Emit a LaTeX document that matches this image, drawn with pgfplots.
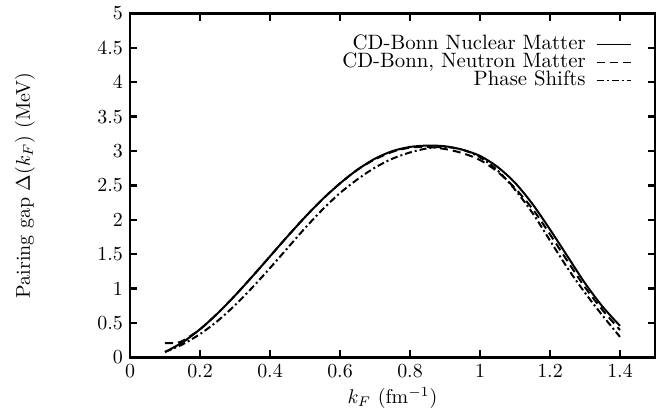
\documentclass[border=0pt]{standalone}
\usepackage{pgfplots}
\pgfplotsset{compat=1.18}
\begin{document}
\begin{tikzpicture}
\begin{axis}[
  width=262.5bp, height=172bp, scale only axis,
  xmin=0, xmax=1.5, ymin=0, ymax=5,
  xtick={0,0.2,0.4,0.6,0.8,1,1.2,1.4},
  ytick={0,0.5,1,1.5,2,2.5,3,3.5,4,4.5,5},
  tick align=inside,
  axis line style={line width=1.2bp},
  tick style={line width=1.2bp, black},
  major tick length=3.6bp,
  xlabel={$k_F$ (fm$^{-1}$)},
  ylabel={Pairing gap $\Delta(k_F)$ (MeV)},
  xlabel style={at={(axis description cs:0.5,-0.117)}, anchor=center},
  ylabel style={at={(axis description cs:-0.200,0.5)}, anchor=center},
  legend style={at={(axis description cs:0.956,0.937)}, anchor=north east,
    draw=none, fill=none, legend cell align=right, inner sep=0pt,
    column sep=5bp, row sep=0pt,
    font=\fontsize{10.4bp}{12bp}\selectfont,
    nodes={inner ysep=0pt, inner xsep=0pt, text height=7bp, text depth=2bp}},
  legend plot pos=right,
  legend image post style={line width=0.9bp},
]
\addplot[black, line width=1bp, smooth] coordinates {
(0.10,0.08) (0.15,0.22) (0.20,0.41) (0.25,0.64) (0.30,0.90) (0.35,1.18)
(0.40,1.47) (0.45,1.76) (0.50,2.04) (0.55,2.30) (0.60,2.53) (0.65,2.73)
(0.70,2.89) (0.75,3.00) (0.80,3.06) (0.85,3.08) (0.90,3.07) (0.95,3.02)
(1.00,2.93) (1.05,2.77) (1.10,2.54) (1.15,2.23) (1.20,1.86) (1.25,1.47)
(1.30,1.08) (1.35,0.74) (1.40,0.46)};
\addlegendentry{CD-Bonn Nuclear Matter}
\addplot[black, line width=1bp, smooth, dash pattern=on 4bp off 2.5bp] coordinates {
(0.10,0.21) (0.125,0.21) (0.15,0.24) (0.20,0.41) (0.25,0.64) (0.30,0.90) (0.35,1.18)
(0.40,1.47) (0.45,1.76) (0.50,2.04) (0.55,2.30) (0.60,2.53) (0.65,2.73)
(0.70,2.88) (0.75,2.99) (0.80,3.05) (0.85,3.06) (0.90,3.03) (0.95,2.97)
(1.00,2.87) (1.05,2.70) (1.10,2.46) (1.15,2.16) (1.20,1.79) (1.25,1.40)
(1.30,1.02) (1.35,0.69) (1.40,0.40)};
\addlegendentry{CD-Bonn, Neutron Matter}
\addplot[black, line width=1bp, smooth, dash pattern=on 3.5bp off 1.5bp on 1bp off 1.5bp] coordinates {
(0.10,0.08) (0.15,0.19) (0.20,0.34) (0.25,0.53) (0.30,0.76) (0.35,1.02)
(0.40,1.30) (0.45,1.59) (0.50,1.88) (0.55,2.15) (0.60,2.39) (0.65,2.59)
(0.70,2.76) (0.75,2.89) (0.80,2.98) (0.85,3.04) (0.90,3.06) (0.95,3.02)
(1.00,2.91) (1.05,2.72) (1.10,2.44) (1.15,2.10) (1.20,1.70) (1.25,1.30)
(1.30,0.94) (1.35,0.61) (1.40,0.30)};
\addlegendentry{Phase Shifts}
\end{axis}
\pgfresetboundingbox
\path[use as bounding box] ([shift={(-65bp,-26.75bp)}]current axis.south west)
  rectangle ([shift={(2.5bp,6.75bp)}]current axis.north east);
\end{tikzpicture}
\end{document}
